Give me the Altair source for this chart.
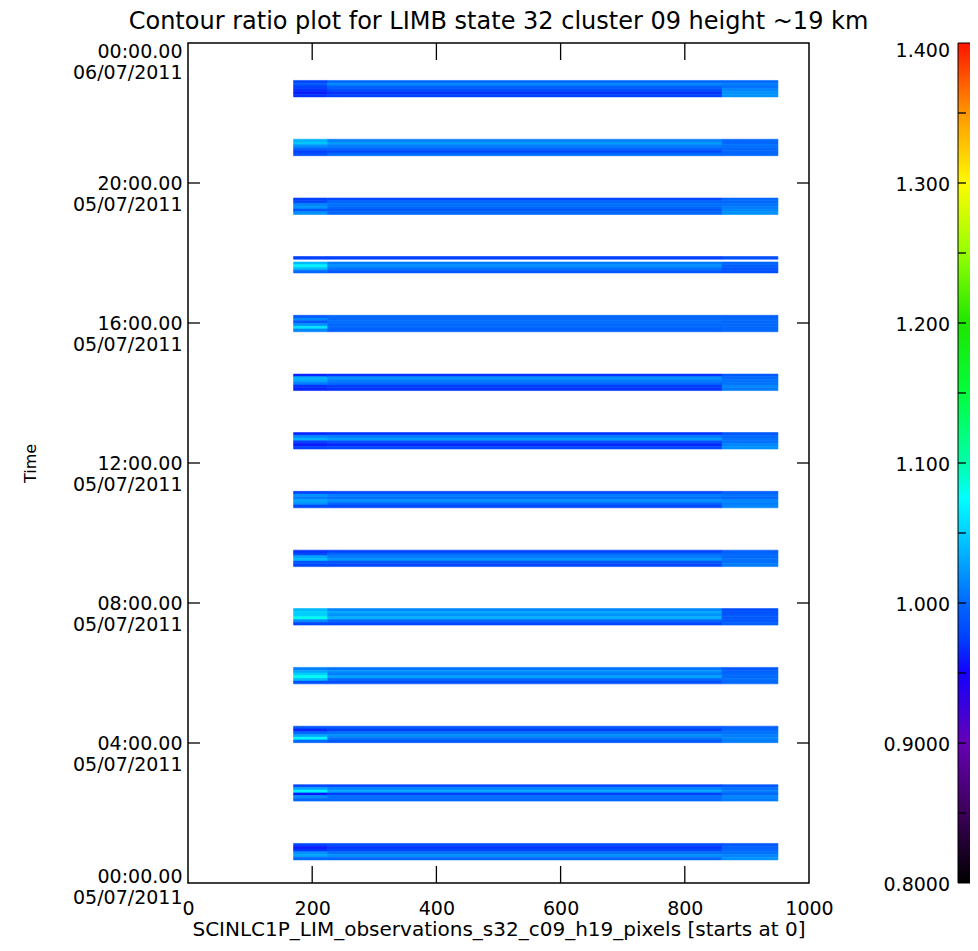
import altair as alt
import pandas as pd

# ---------------- data ----------------
band_start = [0.66, 2.34, 4.01, 5.69, 7.37, 9.04, 10.72, 12.40, 14.07, 15.75,
              17.43, 19.10, 20.78, 22.46]          # hours, earliest band first
band_dur = 0.47                                     # hours
seg_edges = [170, 225, 860, 950]                    # pixel index edges (left / middle / right)

# per band (earliest first), rows listed from top of the band to its bottom
vals_left = [
    [0.98, 0.96, 0.97, 1.02, 1.03, 1.00],
    [0.98, 1.03, 1.07, 0.96, 1.02, 1.00],
    [0.99, 0.965, 1.00, 1.03, 1.07, 1.00],
    [1.01, 1.03, 1.05, 1.08, 1.04, 0.985],
    [1.04, 1.05, 1.05, 1.08, 1.02, 0.98],
    [0.97, 0.98, 1.03, 1.04, 0.99, 0.98],
    [0.975, 1.02, 1.01, 1.03, 1.02, 0.98],
    [0.965, 1.015, 1.035, 0.975, 0.96, 0.975],
    [0.965, 1.035, 1.03, 1.01, 0.97, 0.965],
    [0.99, 1.015, 0.99, 1.02, 1.06, 1.015],
    [0.975, None, 1.04, 1.07, 1.04, 1.00],
    [0.975, 0.98, 1.015, 1.02, 0.99, 1.02],
    [1.035, 1.045, 1.02, 1.00, 0.975, 0.985],
    [0.98, 0.99, 0.975, 0.97, 0.96, 0.97],
]
vals_mid = [
    [0.985, 0.97, 0.98, 1.005, 1.02, 1.00],
    [0.98, 1.015, 1.03, 0.975, 1.005, 1.00],
    [0.99, 0.975, 1.005, 1.02, 1.005, 0.99],
    [1.005, 1.02, 1.01, 1.03, 1.00, 0.985],
    [1.015, 1.03, 1.02, 1.035, 1.00, 0.98],
    [0.975, 1.00, 1.01, 1.02, 0.99, 0.98],
    [0.98, 1.01, 1.005, 1.02, 1.00, 0.98],
    [0.97, 1.01, 1.025, 0.985, 0.965, 0.98],
    [0.97, 1.02, 1.01, 1.00, 0.975, 0.97],
    [1.00, 1.00, 1.005, 1.00, 1.00, 0.995],
    [0.975, None, 1.01, 1.02, 1.005, 0.99],
    [0.98, 1.00, 1.005, 1.00, 0.99, 1.00],
    [1.01, 1.025, 1.01, 1.00, 0.98, 1.00],
    [1.00, 1.015, 0.995, 0.985, 0.97, 0.975],
]
vals_right = [
    [0.99, 0.995, 1.00, 1.005, 1.015, 1.02],
    [0.99, 1.005, 1.01, 1.00, 1.015, 1.01],
    [0.995, 1.00, 1.005, 1.01, 1.015, 1.01],
    [0.99, 0.995, 1.00, 1.00, 1.005, 1.00],
    [0.985, 0.985, 0.99, 0.99, 0.99, 0.995],
    [0.995, 1.00, 1.00, 1.005, 1.005, 1.01],
    [0.995, 1.005, 1.00, 1.015, 1.01, 1.015],
    [0.99, 1.00, 1.005, 1.005, 1.015, 1.02],
    [0.99, 1.00, 1.005, 1.005, 1.015, 1.01],
    [0.995, 1.00, 1.00, 1.00, 1.00, 1.00],
    [0.985, None, 1.00, 0.995, 0.99, 0.985],
    [1.00, 1.00, 1.005, 1.01, 1.015, 1.02],
    [1.00, 1.00, 1.005, 1.00, 1.00, 1.00],
    [1.00, 1.01, 1.005, 1.015, 1.02, 1.02],
]

x_ticks = [200, 400, 600, 800]
x_labels_at = [0, 200, 400, 600, 800, 1000]
y_ticks = [4, 8, 12, 16, 20]
y_labels_at = [0, 4, 8, 12, 16, 20, 24]

cmap_vals = [0.80, 0.85, 0.90, 0.95, 0.975, 1.00, 1.05, 1.075, 1.10, 1.15,
             1.20, 1.25, 1.30, 1.35, 1.40]
cmap_cols = ["#000000", "#3c0058", "#6400b4", "#1400ff", "#0040ff", "#0068ff",
             "#00d0ff", "#00ffff", "#00ffaa", "#00ff3c", "#1ee600", "#96ff00",
             "#fffa00", "#ff9600", "#ff1400"]
cb_ticks = [0.85, 0.90, 0.95, 1.00, 1.05, 1.10, 1.15, 1.20, 1.25, 1.30, 1.35]
cb_label_vals = [0.8, 0.9, 1.0, 1.1, 1.2, 1.3]
cb_label_txt = ["0.8000", "0.9000", "1.000", "1.100", "1.200", "1.300"]
cb_top_val = [1.4]
cb_top_txt = ["1.400"]

# ---------------- build table ----------------
rows = []
nrow = 6
for b, t0 in enumerate(band_start):
    t_end = t0 + band_dur
    for s, arr in enumerate([vals_left, vals_mid, vals_right]):
        for r, v in enumerate(arr[b]):
            if v is None:
                continue
            hi = t_end - r * band_dur / nrow
            lo = hi - band_dur / nrow
            rows.append({"x": seg_edges[s], "x2": seg_edges[s + 1],
                         "t0": lo, "t1": hi, "v": v})
df = pd.DataFrame(rows)

FONT = "DejaVu Sans"
W, H = 621, 840

xscale = alt.Scale(domain=[0, 1000], nice=False, zero=False)
yscale = alt.Scale(domain=[0, 24], nice=False, zero=False)
cscale = alt.Scale(domain=cmap_vals, range=cmap_cols, interpolate="rgb", clamp=True)

label_expr = ("[(datum.value % 24 < 10 ? '0' : '') + (datum.value % 24) + ':00.00', "
              "datum.value == 24 ? '06/07/2011' : '05/07/2011']")

bands = alt.Chart(df).mark_rect(strokeWidth=0.6).encode(
    x=alt.X("x:Q", scale=xscale,
            axis=alt.Axis(values=x_labels_at, format="d", labelFontSize=19, labelFont=FONT,
                          labelColor="black", ticks=False, domain=False, grid=False,
                          labelPadding=16, labelFlush=False, labelOverlap=False,
                          title="SCINLC1P_LIM_observations_s32_c09_h19_pixels [starts at 0]",
                          titleFont=FONT, titleFontSize=20, titleFontWeight="normal",
                          titleColor="black", titleY=46, titleBaseline="middle")),
    x2="x2:Q",
    y=alt.Y("t0:Q", scale=yscale,
            axis=alt.Axis(values=y_labels_at, labelExpr=label_expr, labelFontSize=19,
                          labelFont=FONT, labelColor="black", labelLineHeight=21,
                          labelPadding=6, labelBaseline="middle", labelFlush=False,
                          labelOverlap=False,
                          labelOffset={"condition": [
                              {"test": "datum.value == 24", "value": 8},
                              {"test": "datum.value == 0", "value": -7}],
                              "value": 0},
                          ticks=False, domain=False, grid=False,
                          title="Time", titleFont=FONT, titleFontSize=16,
                          titleFontWeight="normal", titleColor="black",
                          titleX=-158, titleY=420, titleBaseline="middle")),
    y2="t1:Q",
    color=alt.Color("v:Q", scale=cscale, legend=None),
    stroke=alt.Stroke("v:Q", scale=cscale, legend=None),
)

tick_style = dict(color="black", strokeWidth=1.3)
lt = alt.Chart(pd.DataFrame({"t": y_ticks})).mark_rule(**tick_style).encode(
    y=alt.Y("t:Q", scale=yscale), x=alt.value(0), x2=alt.value(12))
rt = alt.Chart(pd.DataFrame({"t": y_ticks})).mark_rule(**tick_style).encode(
    y=alt.Y("t:Q", scale=yscale), x=alt.value(W - 12), x2=alt.value(W))
bt = alt.Chart(pd.DataFrame({"p": x_ticks})).mark_rule(**tick_style).encode(
    x=alt.X("p:Q", scale=xscale), y=alt.value(H - 17), y2=alt.value(H))
tt = alt.Chart(pd.DataFrame({"p": x_ticks})).mark_rule(**tick_style).encode(
    x=alt.X("p:Q", scale=xscale), y=alt.value(0), y2=alt.value(17))

main = alt.layer(bands, lt, rt, bt, tt)

# ---------------- colour bar ----------------
grad = alt.LinearGradient(
    gradient="linear",
    stops=[alt.GradientStop(offset=(v - 0.8) / 0.6, color=c)
           for v, c in zip(cmap_vals, cmap_cols)],
    x1=0, x2=0, y1=1, y2=0)
CBX = 770
cbscale = alt.Scale(domain=[0.8, 1.4], nice=False, zero=False)
cb_rect = alt.Chart(alt.Data(values=[{"a": 1}])).mark_rect(
    fill=grad, stroke="black", strokeWidth=1).encode(
    x=alt.value(CBX), x2=alt.value(CBX + 24), y=alt.value(0), y2=alt.value(H))
cb_t = alt.Chart(pd.DataFrame({"v": cb_ticks})).mark_rule(**tick_style).encode(
    y=alt.Y("v:Q", scale=cbscale, axis=None), x=alt.value(CBX), x2=alt.value(CBX + 8))
cb_l = alt.Chart(pd.DataFrame({"v": cb_label_vals, "s": cb_label_txt})).mark_text(
    font=FONT, fontSize=19, align="right", baseline="middle", dy=2, color="black").encode(
    y=alt.Y("v:Q", scale=cbscale, axis=None), x=alt.value(CBX - 8), text="s:N")
cb_top = alt.Chart(pd.DataFrame({"v": cb_top_val, "s": cb_top_txt})).mark_text(
    font=FONT, fontSize=19, align="right", baseline="middle", dy=8, color="black").encode(
    y=alt.Y("v:Q", scale=cbscale, axis=None), x=alt.value(CBX - 8), text="s:N")
cbar = alt.layer(cb_rect, cb_t, cb_l, cb_top)

chart = alt.layer(main, cbar).resolve_scale(y="independent").properties(
    width=W, height=H,
    title=alt.TitleParams("Contour ratio plot for LIMB state 32 cluster 09 height ~19 km",
                          font=FONT, fontSize=24, fontWeight="normal", color="black",
                          anchor="middle", baseline="alphabetic", offset=11, dy=22),
    autosize=alt.AutoSizeParams(type="none"),
    padding={"left": 180, "top": 35, "right": 161, "bottom": 60},
    background="white",
).configure_view(stroke="black", strokeWidth=1.5)

chart.save("out.html", embed_options={"renderer": "svg", "actions": False})
